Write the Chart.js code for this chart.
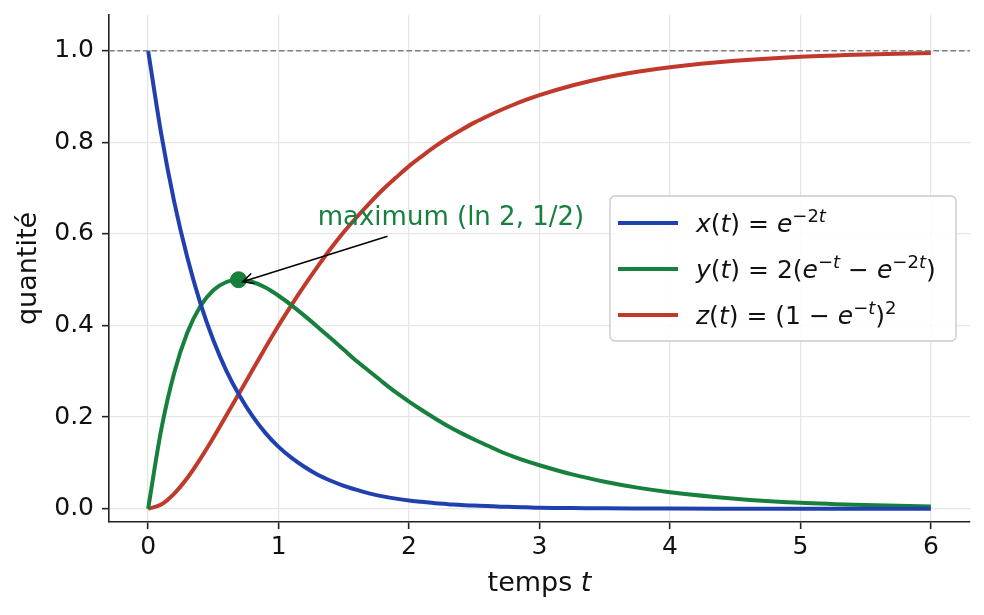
<!DOCTYPE html>
<html><head><meta charset="utf-8">
<script src="https://cdn.jsdelivr.net/npm/chart.js@4.4.0/dist/chart.umd.min.js"></script>
<style>html,body{margin:0;padding:0;background:#fff}#wrap{width:984px;height:615px}</style>
</head><body><div id="wrap"><canvas id="c" width="984" height="615"></canvas></div>
<script>
const T = [0,0.1,0.2,0.3,0.4,0.5,0.6,0.7,0.8,0.9,1.0,1.1,1.2,1.3,1.4,1.5,1.6,1.7,1.8,1.9,2.0,2.1,2.2,2.3,2.4,2.5,2.6,2.7,2.8,2.9,3.0,3.25,3.5,3.75,4.0,4.5,5.0,5.5,6.0];
const X_VALS = [1.000,0.819,0.670,0.549,0.449,0.368,0.301,0.247,0.202,0.165,0.135,0.111,0.091,0.074,0.061,0.050,0.041,0.033,0.027,0.022,0.018,0.015,0.012,0.010,0.008,0.007,0.006,0.0045,0.004,0.003,0.002,0.0015,0.0009,0.0006,0.0003,0.0001,0.0000,0.0000,0.0000];
const Y_VALS = [0.000,0.172,0.297,0.384,0.442,0.477,0.495,0.500,0.495,0.483,0.465,0.444,0.421,0.397,0.372,0.347,0.322,0.299,0.276,0.254,0.234,0.215,0.197,0.180,0.165,0.151,0.138,0.125,0.114,0.104,0.095,0.075,0.059,0.046,0.036,0.022,0.013,0.008,0.005];
const Z_VALS = [0.000,0.009,0.033,0.067,0.109,0.155,0.204,0.253,0.303,0.352,0.400,0.445,0.488,0.529,0.568,0.604,0.637,0.668,0.697,0.723,0.748,0.770,0.791,0.810,0.827,0.843,0.857,0.870,0.882,0.893,0.903,0.924,0.941,0.954,0.964,0.978,0.987,0.992,0.995];
const X_TICKS = [0,1,2,3,4,5,6];
const Y_TICKS = [0,0.2,0.4,0.6,0.8,1.0];
const MAX_POINT = {x:0.693, y:0.5};
const ASYMPTOTE = 1.0;

const BLUE='#2140b0', GREEN='#17803d', RED='#c0392b';
const FONT='"DejaVu Sans", sans-serif';
const pts = vals => T.map((t,i)=>({x:t,y:vals[i]}));

function drawRich(ctx, x, y, parts, size){
  let cx = x;
  for(const p of parts){
    const fs = p.s ? Math.round(size*0.7) : size;
    ctx.font = (p.i?'italic ':'') + fs + 'px ' + FONT;
    const dy = p.s ? -size*0.42 : 0;
    ctx.fillText(p.t, cx, y+dy);
    cx += ctx.measureText(p.t).width;
  }
}

const overlay = {
  id:'overlay',
  afterDatasetsDraw(chart){
    const ctx = chart.ctx, xs = chart.scales.x, ys = chart.scales.y;
    ctx.save();
    // annotation arrow
    const tx = xs.getPixelForValue(1.835), ty = ys.getPixelForValue(0.595);
    const hx = xs.getPixelForValue(MAX_POINT.x)+4, hy = ys.getPixelForValue(MAX_POINT.y)+2;
    ctx.strokeStyle='#000'; ctx.lineWidth=1.5;
    ctx.beginPath(); ctx.moveTo(tx,ty); ctx.lineTo(hx,hy); ctx.stroke();
    const ang = Math.atan2(ty-hy, tx-hx);
    ctx.beginPath();
    ctx.moveTo(hx+12*Math.cos(ang+0.45), hy+12*Math.sin(ang+0.45));
    ctx.lineTo(hx,hy);
    ctx.lineTo(hx+12*Math.cos(ang-0.45), hy+12*Math.sin(ang-0.45));
    ctx.stroke();
    // annotation text
    ctx.fillStyle=GREEN; ctx.textBaseline='alphabetic'; ctx.textAlign='left';
    ctx.font='26px '+FONT;
    ctx.fillText('maximum (ln 2, 1/2)', xs.getPixelForValue(1.3), ys.getPixelForValue(0.62));
    // legend
    const bx=610, by=196, bw=346, bh=145;
    ctx.fillStyle='rgba(255,255,255,0.85)'; ctx.strokeStyle='#cccccc'; ctx.lineWidth=1.4;
    ctx.beginPath(); ctx.roundRect(bx,by,bw,bh,5); ctx.fill(); ctx.stroke();
    const rows = [
      {c:BLUE, y:223, parts:[{t:'x',i:1},{t:'('},{t:'t',i:1},{t:')'},{t:' = '},{t:'e',i:1},{t:'\u22122',s:1},{t:'t',i:1,s:1}]},
      {c:GREEN, y:269, parts:[{t:'y',i:1},{t:'('},{t:'t',i:1},{t:')'},{t:' = 2('},{t:'e',i:1},{t:'\u2212',s:1},{t:'t',i:1,s:1},{t:' \u2212 '},{t:'e',i:1},{t:'\u22122',s:1},{t:'t',i:1,s:1},{t:')'}]},
      {c:RED, y:315, parts:[{t:'z',i:1},{t:'('},{t:'t',i:1},{t:')'},{t:' = (1 \u2212 '},{t:'e',i:1},{t:'\u2212',s:1},{t:'t',i:1,s:1},{t:')'},{t:'2',s:1}]}
    ];
    for(const r of rows){
      ctx.strokeStyle=r.c; ctx.lineWidth=4;
      ctx.beginPath(); ctx.moveTo(618,r.y); ctx.lineTo(678,r.y); ctx.stroke();
      ctx.fillStyle='#111';
      drawRich(ctx, 696, r.y+9, r.parts, 25);
    }
    // axis titles
    ctx.fillStyle='#111';
    ctx.font='27px '+FONT;
    const w1 = ctx.measureText('temps ').width;
    ctx.font='italic 27px '+FONT;
    const w2 = ctx.measureText('t').width;
    const cx = (chart.chartArea.left+chart.chartArea.right)/2 - (w1+w2)/2;
    ctx.font='27px '+FONT; ctx.fillText('temps ', cx, 591);
    ctx.font='italic 27px '+FONT; ctx.fillText('t', cx+w1, 591);
    ctx.save();
    ctx.translate(36, (chart.chartArea.top+chart.chartArea.bottom)/2);
    ctx.rotate(-Math.PI/2);
    ctx.textAlign='center'; ctx.font='27px '+FONT;
    ctx.fillText('quantit\u00e9', 0, 0);
    ctx.restore();
    ctx.restore();
  }
};

const lineDs = (vals,c)=>({type:'line',data:pts(vals),borderColor:c,borderWidth:4,pointRadius:0,cubicInterpolationMode:'monotone',fill:false});

new Chart(document.getElementById('c'),{
  type:'line',
  data:{datasets:[
    {type:'line',data:[{x:-0.3,y:ASYMPTOTE},{x:6.3,y:ASYMPTOTE}],borderColor:'#808080',borderWidth:1.6,borderDash:[5.5,3],pointRadius:0},
    lineDs(X_VALS,BLUE), lineDs(Y_VALS,GREEN), lineDs(Z_VALS,RED),
    {type:'scatter',data:[MAX_POINT],backgroundColor:GREEN,borderColor:GREEN,pointRadius:8,pointHoverRadius:8}
  ]},
  options:{
    responsive:false, animation:false, devicePixelRatio:1,
    layout:{padding:{top:15,right:14,left:0,bottom:0}},
    plugins:{legend:{display:false},tooltip:{enabled:false}},
    events:[],
    scales:{
      x:{type:'linear',min:-0.3,max:6.3,
        afterBuildTicks(s){s.ticks=X_TICKS.map(v=>({value:v}));},
        afterFit(s){s.height=93; s.paddingLeft=0; s.paddingRight=0;},
        ticks:{font:{family:FONT,size:25},color:'#111',padding:3,callback:v=>String(v),maxRotation:0},
        grid:{color:'#e6e6e6',lineWidth:1.3,tickColor:'#222',tickLength:7,tickWidth:1.6},
        border:{display:true,color:'#222',width:1.6}},
      y:{type:'linear',min:-0.029,max:1.078,
        afterBuildTicks(s){s.ticks=Y_TICKS.map(v=>({value:v}));},
        afterFit(s){s.width=109; s.paddingTop=0; s.paddingBottom=0;},
        ticks:{font:{family:FONT,size:25},color:'#111',padding:8,callback:v=>v.toFixed(1)},
        grid:{color:'#e6e6e6',lineWidth:1.3,tickColor:'#222',tickLength:7,tickWidth:1.6},
        border:{display:true,color:'#222',width:1.6}}
    }
  },
  plugins:[overlay]
});
</script></body></html>
